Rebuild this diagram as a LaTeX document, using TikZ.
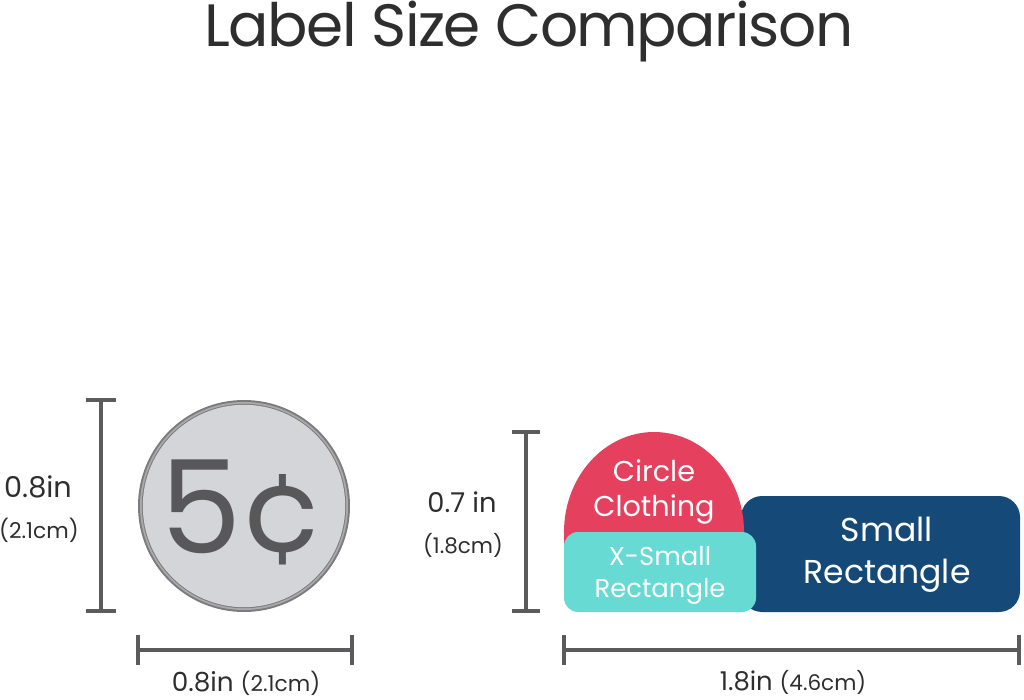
\documentclass[tikz,border=0pt]{standalone}
\usepackage{fontspec}
\setmainfont{Poppins}
\newfontfamily\titlefont{Poppins}[LetterSpace=-2.5]
\usetikzlibrary{calc,positioning}
\definecolor{dimgray}{HTML}{5B5B5D}
\definecolor{txtgray}{HTML}{2E2E2E}
\definecolor{coinring}{HTML}{7C7C7E}
\definecolor{coinlight}{HTML}{AAAAAC}
\definecolor{coinfill}{HTML}{D4D5D9}
\definecolor{coinink}{HTML}{58585A}
\definecolor{clothred}{HTML}{E5405E}
\definecolor{xsteal}{HTML}{66DAD3}
\definecolor{smblue}{HTML}{154A78}

\begin{document}
\begin{tikzpicture}[x=0.025cm, y=0.025cm,
	dimline/.style={draw=dimgray, line width=2.8pt},
	txt/.style={inner sep=0pt, anchor=base, text=txtgray},
	lbl/.style={inner sep=0pt, text=white, align=center}]
	\useasboundingbox (0,0) rectangle (1024,699);
	% title
	\node[txt, font=\titlefont\fontsize{42.5}{50}\selectfont] (title) at (529,652) {Label Size Comparison};
	
	% coin
	\fill[coinring] (244,193) circle (106);
	\fill[coinlight] (244,193) circle (104);
	\fill[coinring] (244,193) circle (102.2);
	\fill[coinfill] (244,193) circle (101.2);
	\node[txt, text=coinink, font=\fontsize{92}{100}\selectfont] (coin) at (244,146) {5¢};
	
	% coin dimensions
	\coordinate (cTop) at (101,299);
	\coordinate (cBot) at (101,88);
	\coordinate (cLeft) at (138,49);
	\coordinate (cRight) at (352,49);
	\draw[dimline] (cTop) -- (cBot);
	\draw[dimline] (cLeft) -- (cRight);
	\foreach \c in {cTop,cBot}
	\draw[dimline] ($(\c)+(-15,0)$) -- ($(\c)+(15,0)$);
	\foreach \c in {cLeft,cRight}
	\draw[dimline] ($(\c)+(0,-15)$) -- ($(\c)+(0,15)$);
	\node[txt, font=\fontsize{20.4}{24}\selectfont] (cHin) at (38,202) {0.8in};
	\node[txt, font=\fontsize{15.5}{18}\selectfont] (cHcm) at (39,161) {(2.1cm)};
	\node[txt] (cW) at (246,8) {\fontsize{18.7}{22}\selectfont 0.8in {\fontsize{15.5}{18}\selectfont(2.1cm)}};
	
	% labels
	\fill[smblue, rounded corners=15] (741,87) rectangle (1020,203);
	\fill[clothred] (564,140) -- (564,167) arc[start angle=180, end angle=0, x radius=90, y radius=100] -- (744,140) -- cycle;
	\fill[xsteal, rounded corners=10] (564,87) rectangle (756,167);
	\node[lbl, font=\fontsize{20.4}{24.9}\selectfont] (circ) at (654,207) {Circle\\Clothing};
	\node[lbl, font=\fontsize{18.4}{22.8}\selectfont] (xsm) at (660,124) {X-Small\\Rectangle};
	\node[lbl, font=\fontsize{23.5}{29.9}\selectfont] (sm) at (887,144) {Small\\Rectangle};
	
	% label dimensions
	\coordinate (lTop) at (526,267);
	\coordinate (lBot) at (526,88);
	\coordinate (lLeft) at (564,49);
	\coordinate (lRight) at (1019,49);
	\draw[dimline] (lTop) -- (lBot);
	\draw[dimline] (lLeft) -- (lRight);
	\foreach \c in {lTop,lBot}
	\draw[dimline] ($(\c)+(-14,0)$) -- ($(\c)+(14,0)$);
	\foreach \c in {lLeft,lRight}
	\draw[dimline] ($(\c)+(0,-15)$) -- ($(\c)+(0,15)$);
	\node[txt, font=\fontsize{19.4}{23}\selectfont] (lHin) at (462,187) {0.7 in};
	\node[txt, font=\fontsize{15.3}{18}\selectfont] (lHcm) at (463,146) {(1.8cm)};
	\node[txt] (lW) at (793,9) {\fontsize{18.4}{22}\selectfont 1.8in {\fontsize{15.3}{18}\selectfont(4.6cm)}};
\end{tikzpicture}
\end{document}
